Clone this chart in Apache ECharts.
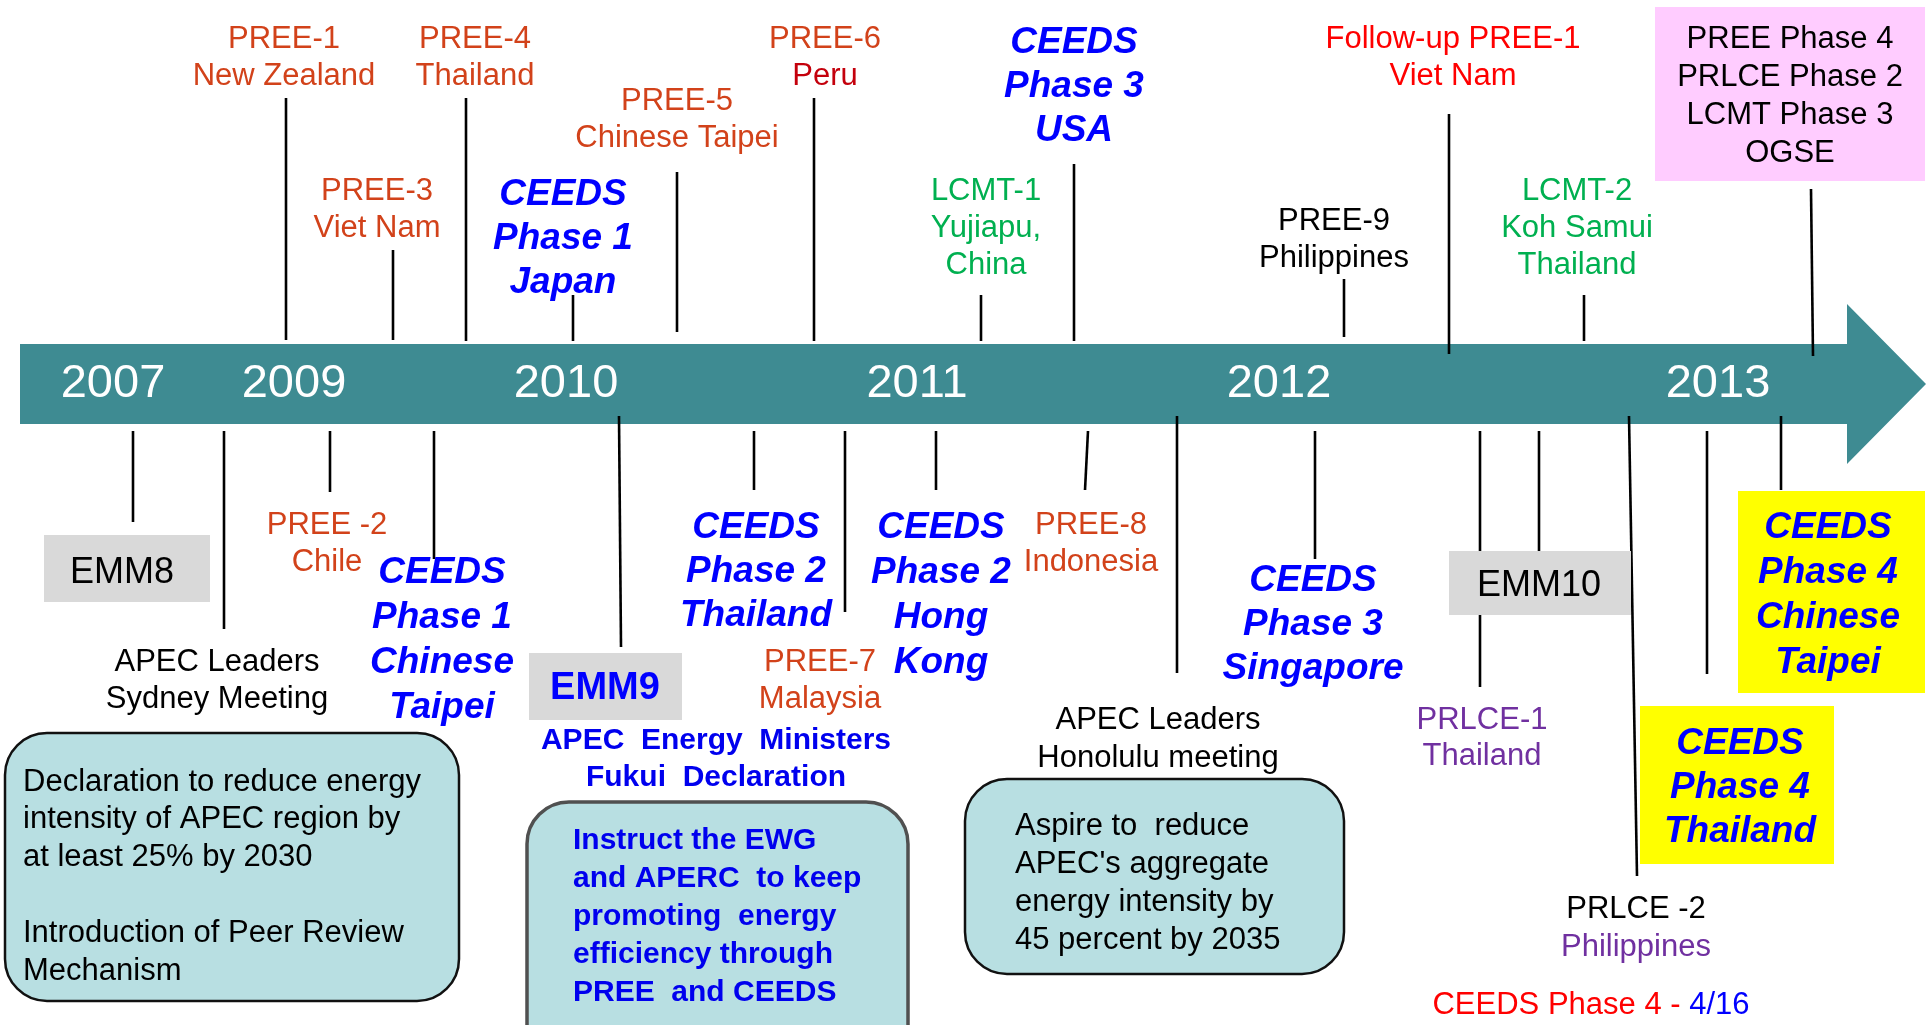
<!DOCTYPE html>
<html lang="en">
<head>
    <meta charset="UTF-8">
    <title>APEC energy efficiency timeline</title>
    <style>
        html, body {margin: 0; padding: 0; background: #fff;}
        #main {width: 1930px; height: 1025px;}
    </style>
</head>
<body>
<div id="main"></div>
<script src="https://cdn.jsdelivr.net/npm/echarts@6/dist/echarts.min.js"></script>
<script>
    // the picture is laid out on a 1930 x 1025 canvas, so both axes use that range
    const FONT = '"Liberation Sans", Arial, sans-serif'
    // canvas text sits a little high against the measured line centres
    const TEXT_SHIFT = 3

    // timeline band with arrow head
    const timeline = {start: 20, bodyEnd: 1847, tip: 1926, top: 344, bottom: 424, headTop: 304, headBottom: 464}

    const yearLabels = ['2007', '2009', '2010', '2011', '2012', '2013']
    const yearPos = [113, 294, 566, 917, 1279, 1718]
    const yearRow = 381

    // stems: [x top, y top, x bottom, y bottom]
    const upperStems = [
        [286, 98, 286, 340], [393, 250, 393, 340], [466, 98, 466, 341], [573, 295, 573, 341],
        [677, 172, 677, 332], [814, 98, 814, 341], [981, 295, 981, 341], [1074, 164, 1074, 341],
        [1344, 279, 1344, 337], [1449, 114, 1449, 354], [1584, 295, 1584, 341], [1811, 189, 1813, 356]
    ]
    const lowerStems = [
        [133, 431, 133, 522], [224, 431, 224, 629], [330, 431, 330, 492], [434, 431, 434, 559],
        [619, 416, 621, 647], [754, 431, 754, 490], [845, 431, 845, 612], [936, 431, 936, 490],
        [1088, 431, 1085, 490], [1177, 416, 1177, 673], [1315, 431, 1315, 559], [1480, 431, 1480, 687],
        [1539, 431, 1539, 551], [1629, 416, 1637, 876], [1707, 431, 1707, 674], [1781, 416, 1781, 490]
    ]

    // boxes: [x1, y1, x2, y2], kind
    const boxes = [
        {rect: [44, 535, 210, 602], kind: 'grey'},
        {rect: [529, 653, 682, 720], kind: 'grey'},
        {rect: [1449, 551, 1631, 615], kind: 'grey'},
        {rect: [1655, 7, 1925, 181], kind: 'pink'},
        {rect: [1738, 491, 1925, 693], kind: 'yellow'},
        {rect: [1640, 706, 1834, 864], kind: 'yellow'},
        {rect: [5, 733, 459, 1001], kind: 'round'},
        {rect: [527, 802, 908, 1070], kind: 'roundGrey'},
        {rect: [965, 779, 1344, 974], kind: 'round'}
    ]

    const upperLabels = [
        {lines: ['PREE-1', 'New Zealand'], at: [284, 36], s: 'pree'},
        {lines: ['PREE-4', 'Thailand'], at: [475, 36], s: 'pree'},
        {lines: ['PREE-3', 'Viet Nam'], at: [377, 188], s: 'pree'},
        {lines: ['CEEDS', 'Phase 1', 'Japan'], at: [563, 192], s: 'ceeds'},
        {lines: ['PREE-5', 'Chinese Taipei'], at: [677, 98], s: 'pree'},
        {lines: ['PREE-6', [['Peru', 'peru']]], at: [825, 36], s: 'pree'},
        {lines: ['CEEDS', 'Phase 3', 'USA'], at: [1074, 40], s: 'ceeds'},
        {lines: ['LCMT-1', 'Yujiapu,', 'China'], at: [986, 188], s: 'lcmt'},
        {lines: ['PREE-9', 'Philippines'], at: [1334, 218], s: 'black'},
        {lines: ['Follow-up PREE-1', 'Viet Nam'], at: [1453, 36], s: 'red'},
        {lines: ['LCMT-2', 'Koh Samui', 'Thailand'], at: [1577, 188], s: 'lcmt'},
        {lines: ['PREE Phase 4', 'PRLCE Phase 2', 'LCMT Phase 3', 'OGSE'], at: [1790, 36], s: 'black', lh: 38}
    ]

    const lowerLabels = [
        {lines: ['EMM8'], at: [122, 570], s: 'box'},
        {lines: ['APEC Leaders', 'Sydney Meeting'], at: [217, 659], s: 'black'},
        {lines: ['PREE -2', 'Chile'], at: [327, 522], s: 'pree'},
        {lines: ['CEEDS', 'Phase 1', 'Chinese', 'Taipei'], at: [442, 570], s: 'ceeds', lh: 45},
        {lines: ['EMM9'], at: [605, 686], s: 'boxBlue'},
        {lines: ['APEC  Energy  Ministers', 'Fukui  Declaration'], at: [716, 738], s: 'blueBold'},
        {lines: ['CEEDS', 'Phase 2', 'Thailand'], at: [756, 525], s: 'ceeds'},
        {lines: ['PREE-7', 'Malaysia'], at: [820, 659], s: 'pree'},
        {lines: ['CEEDS', 'Phase 2', 'Hong', 'Kong'], at: [941, 525], s: 'ceeds', lh: 45},
        {lines: ['PREE-8', 'Indonesia'], at: [1091, 522], s: 'pree'},
        {lines: ['APEC Leaders', 'Honolulu meeting'], at: [1158, 717], s: 'black', lh: 38},
        {lines: ['CEEDS', 'Phase 3', 'Singapore'], at: [1313, 578], s: 'ceeds'},
        {lines: ['EMM10'], at: [1539, 583], s: 'box'},
        {lines: ['PRLCE-1', 'Thailand'], at: [1482, 717], s: 'prlce', lh: 36},
        {lines: ['PRLCE -2', [['Philippines', 'prlce']]], at: [1636, 906], s: 'black', lh: 38},
        {lines: [[['CEEDS Phase 4 - ', 'red'], ['4/16', 'blue']]], at: [1591, 1002], s: 'red'},
        {lines: ['CEEDS', 'Phase 4', 'Chinese', 'Taipei'], at: [1828, 525], s: 'ceeds', lh: 45},
        {lines: ['CEEDS', 'Phase 4', 'Thailand'], at: [1740, 741], s: 'ceeds'}
    ]

    // text inside the rounded boxes, left aligned
    const boxTexts = [
        {lines: ['Declaration to reduce energy', 'intensity of APEC region by', 'at least 25% by 2030', '',
            'Introduction of Peer Review', 'Mechanism'], at: [23, 779], s: 'black', lh: 37.8, align: 'left'},
        {lines: ['Instruct the EWG', 'and APERC  to keep', 'promoting  energy', 'efficiency through',
            'PREE  and CEEDS'], at: [573, 838], s: 'blueBold', lh: 38, align: 'left'},
        {lines: ['Aspire to  reduce', "APEC's aggregate", 'energy intensity by', '45 percent by 2035'],
            at: [1015, 823], s: 'black', lh: 38.3, align: 'left'}
    ]

    const styles = {
        pree: {color: '#d2421a', size: 31, lh: 37},
        peru: {color: '#c4000c', size: 31, lh: 37},
        red: {color: '#ff0000', size: 31, lh: 37},
        blue: {color: '#0000ff', size: 31, lh: 37},
        lcmt: {color: '#00b050', size: 31, lh: 37},
        prlce: {color: '#7030a0', size: 31, lh: 37},
        black: {color: '#000000', size: 31, lh: 37},
        ceeds: {color: '#0000ff', size: 37, lh: 44, weight: 'bold', italic: true},
        blueBold: {color: '#0000ee', size: 30, lh: 37, weight: 'bold'},
        box: {color: '#000000', size: 36, lh: 40},
        boxBlue: {color: '#0000ff', size: 38, lh: 40, weight: 'bold'},
        year: {color: '#ffffff', size: 47, lh: 50}
    }

    const boxKinds = {
        grey: {fill: '#d9d9d9'},
        pink: {fill: '#ffccff'},
        yellow: {fill: '#ffff00'},
        round: {fill: '#b8dfe2', stroke: '#111111', lineWidth: 2.5, r: 42},
        roundGrey: {fill: '#b8dfe2', stroke: '#505050', lineWidth: 3.5, r: 42}
    }

    function fontOf(st) {
        return (st.italic ? 'italic ' : '') + (st.weight || 'normal') + ' ' + st.size + 'px ' + FONT
    }

    function renderText(list) {
        return function (params, api) {
            const rec = list[params.dataIndex]
            const base = styles[rec.s]
            const lh = rec.lh || base.lh
            const children = rec.lines.map((ln, i) => {
                const p = api.coord([rec.at[0], rec.at[1] + i * lh + TEXT_SHIFT])
                const style = {
                    x: p[0], y: p[1], align: rec.align || 'center', verticalAlign: 'middle',
                    fill: base.color, font: fontOf(base)
                }
                if (Array.isArray(ln)) {
                    style.rich = {}
                    style.text = ln.map((seg, k) => {
                        const st = Object.assign({}, base, styles[seg[1]], {size: base.size, weight: base.weight, italic: base.italic})
                        style.rich['s' + k] = {fill: st.color, font: fontOf(st)}
                        return '{s' + k + '|' + seg[0] + '}'
                    }).join('')
                } else {
                    style.text = ln
                }
                return {type: 'text', style: style}
            })
            return {type: 'group', children: children}
        }
    }

    function renderStem(list) {
        return function (params, api) {
            const s = list[params.dataIndex]
            const a = api.coord([s[0], s[1]])
            const b = api.coord([s[2], s[3]])
            return {
                type: 'line',
                shape: {x1: a[0], y1: a[1], x2: b[0], y2: b[1]},
                style: {stroke: '#000', lineWidth: 2.6}
            }
        }
    }

    let chart = echarts.init(document.getElementById('main'))
    let option = {
        animation: false,
        grid: {left: 0, right: 0, top: 0, bottom: 0},
        xAxis: {type: 'value', min: 0, max: 1930, show: false},
        yAxis: {type: 'value', min: 0, max: 1025, inverse: true, show: false},
        series: [
            {
                // the arrow band
                type: 'custom',
                data: [[0]],
                renderItem: function (params, api) {
                    const t = timeline
                    const mid = (t.top + t.bottom) / 2
                    const pts = [
                        [t.start, t.top], [t.bodyEnd, t.top], [t.bodyEnd, t.headTop], [t.tip, mid],
                        [t.bodyEnd, t.headBottom], [t.bodyEnd, t.bottom], [t.start, t.bottom]
                    ].map(p => api.coord(p))
                    return {type: 'polygon', shape: {points: pts}, style: {fill: '#3e8b92'}}
                }
            },
            {
                type: 'custom',
                data: yearLabels.map((_, i) => [i]),
                renderItem: function (params, api) {
                    const p = api.coord([yearPos[params.dataIndex], yearRow + TEXT_SHIFT])
                    return {
                        type: 'text',
                        style: {
                            text: yearLabels[params.dataIndex], x: p[0], y: p[1],
                            align: 'center', verticalAlign: 'middle',
                            fill: styles.year.color, font: fontOf(styles.year)
                        }
                    }
                }
            },
            {type: 'custom', data: upperStems.map((_, i) => [i]), renderItem: renderStem(upperStems)},
            {type: 'custom', data: lowerStems.map((_, i) => [i]), renderItem: renderStem(lowerStems)},
            {
                type: 'custom',
                data: boxes.map((_, i) => [i]),
                renderItem: function (params, api) {
                    const b = boxes[params.dataIndex]
                    const k = boxKinds[b.kind]
                    const a = api.coord([b.rect[0], b.rect[1]])
                    const c = api.coord([b.rect[2], b.rect[3]])
                    return {
                        type: 'rect',
                        shape: {x: a[0], y: a[1], width: c[0] - a[0], height: c[1] - a[1], r: k.r || 0},
                        style: {
                            fill: k.fill,
                            stroke: k.stroke || null,
                            lineWidth: k.lineWidth || 0
                        }
                    }
                }
            },
            {type: 'custom', data: upperLabels.map((_, i) => [i]), renderItem: renderText(upperLabels)},
            {type: 'custom', data: lowerLabels.map((_, i) => [i]), renderItem: renderText(lowerLabels)},
            {type: 'custom', data: boxTexts.map((_, i) => [i]), renderItem: renderText(boxTexts)}
        ]
    }
    chart.setOption(option)
</script>
</body>
</html>
